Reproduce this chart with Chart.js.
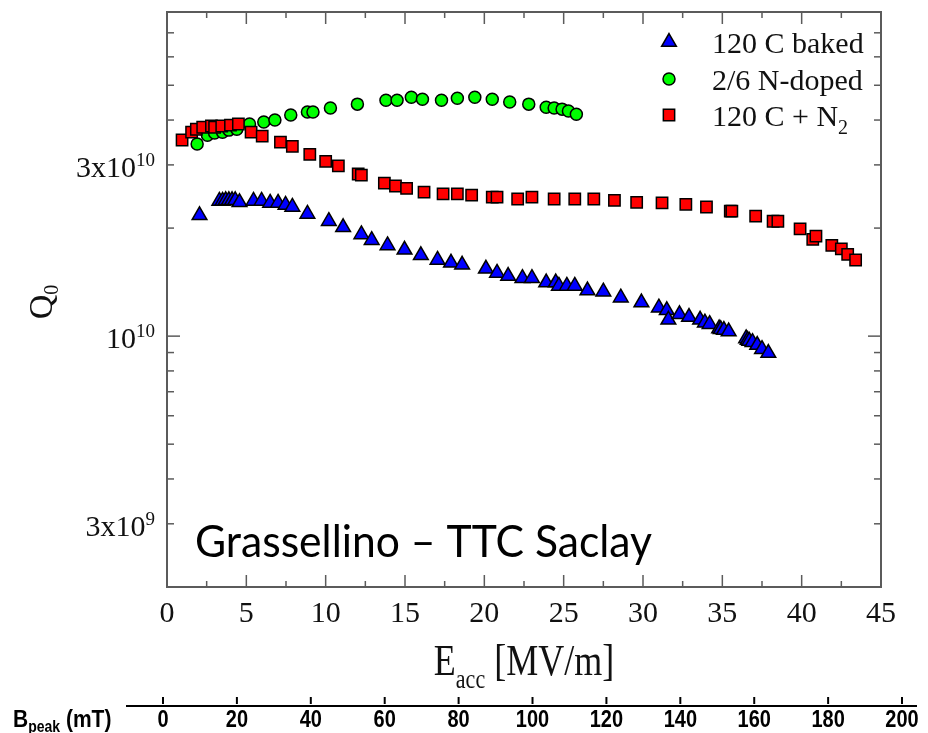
<!DOCTYPE html>
<html><head><meta charset="utf-8">
<script src="https://cdn.jsdelivr.net/npm/chart.js@4.4.1/dist/chart.umd.min.js"></script>
<style>html,body{margin:0;padding:0;background:#fff;}canvas{display:block;}</style>
</head><body>
<canvas id="c" width="928" height="733"></canvas>
<script>
// ---------------- data ----------------
const seriesNames = ['120 C baked', '2/6 N-doped', '120 C + N_2'];

const bakedE = [2.05, 3.3, 3.5, 3.7, 3.9, 4.1, 4.3, 4.57, 5.45, 5.96, 6.5, 7.0, 7.47, 7.9, 8.85, 10.2, 11.1, 12.25, 12.9, 13.9, 14.97, 16.0, 17.05, 17.9, 18.6, 20.1, 20.8, 21.5, 22.4, 23.0, 23.9, 24.5, 24.7, 25.2, 25.7, 26.5, 27.5, 28.6, 29.9, 31.0, 31.5, 31.6, 32.3, 32.9, 33.6, 33.9, 34.2, 34.8, 34.9, 35.1, 35.4, 36.5, 36.6, 36.7, 36.9, 37.2, 37.5, 37.9];
const bakedQ = [2.17e10, 2.38e10, 2.38e10, 2.39e10, 2.39e10, 2.39e10, 2.39e10, 2.36e10, 2.38e10, 2.38e10, 2.35e10, 2.35e10, 2.32e10, 2.29e10, 2.19e10, 2.09e10, 2.01e10, 1.92e10, 1.85e10, 1.79e10, 1.74e10, 1.68e10, 1.63e10, 1.60e10, 1.58e10, 1.54e10, 1.50e10, 1.47e10, 1.45e10, 1.45e10, 1.41e10, 1.41e10, 1.38e10, 1.38e10, 1.38e10, 1.34e10, 1.33e10, 1.28e10, 1.24e10, 1.20e10, 1.18e10, 1.11e10, 1.15e10, 1.13e10, 1.11e10, 1.09e10, 1.08e10, 1.05e10, 1.045e10, 1.04e10, 1.03e10, 0.985e10, 0.975e10, 0.97e10, 0.962e10, 0.944e10, 0.92e10, 0.897e10];

const dopedE = [1.9, 2.55, 3.0, 3.5, 3.9, 4.4, 5.2, 6.1, 6.8, 7.8, 8.85, 9.2, 10.3, 12.0, 13.8, 14.5, 15.4, 16.1, 17.3, 18.3, 19.4, 20.5, 21.6, 22.8, 23.9, 24.4, 24.9, 25.3, 25.8];
const dopedQ = [3.43e10, 3.63e10, 3.68e10, 3.70e10, 3.75e10, 3.77e10, 3.90e10, 3.95e10, 4.00e10, 4.13e10, 4.21e10, 4.21e10, 4.32e10, 4.43e10, 4.54e10, 4.54e10, 4.63e10, 4.57e10, 4.54e10, 4.60e10, 4.63e10, 4.57e10, 4.49e10, 4.43e10, 4.34e10, 4.32e10, 4.29e10, 4.24e10, 4.15e10];

const n2E = [0.95, 1.55, 1.85, 2.25, 2.8, 3.0, 3.45, 4.0, 4.5, 5.3, 6.0, 7.15, 7.9, 9.0, 10.0, 10.8, 12.05, 12.25, 13.7, 14.4, 15.1, 16.2, 17.4, 18.3, 19.2, 20.5, 20.8, 22.1, 23.0, 24.4, 25.7, 26.9, 28.2, 29.6, 31.2, 32.7, 34.0, 35.5, 35.6, 37.1, 38.2, 38.5, 39.9, 40.7, 40.9, 41.9, 42.5, 42.9, 43.4];
const n2Q = [3.52e10, 3.70e10, 3.77e10, 3.82e10, 3.85e10, 3.82e10, 3.85e10, 3.87e10, 3.90e10, 3.70e10, 3.61e10, 3.47e10, 3.38e10, 3.21e10, 3.07e10, 2.98e10, 2.83e10, 2.81e10, 2.67e10, 2.62e10, 2.58e10, 2.52e10, 2.49e10, 2.49e10, 2.47e10, 2.44e10, 2.44e10, 2.41e10, 2.44e10, 2.41e10, 2.41e10, 2.41e10, 2.39e10, 2.36e10, 2.35e10, 2.33e10, 2.29e10, 2.23e10, 2.23e10, 2.16e10, 2.09e10, 2.09e10, 1.99e10, 1.86e10, 1.90e10, 1.79e10, 1.75e10, 1.69e10, 1.63e10];

const xMajorTicks = [0, 5, 10, 15, 20, 25, 30, 35, 40, 45];
const xMinorTicks = [2.5, 7.5, 12.5, 17.5, 22.5, 27.5, 32.5, 37.5, 42.5];
const yTicks = [2e9, 3e9, 4e9, 5e9, 6e9, 7e9, 8e9, 9e9, 1e10, 2e10, 3e10, 4e10, 5e10, 6e10, 7e10, 8e10];
const yLabelValues = [3e9, 1e10, 3e10];
const yLabelTexts = ['3x10^9', '10^10', '3x10^10'];
const bTicks = [0, 20, 40, 60, 80, 100, 120, 140, 160, 180, 200];

const xTitle = ['E', 'acc', ' [MV/m]'];
const yTitle = ['Q', '0'];
const bTitle = ['B', 'peak', ' (mT)'];
const noteText = 'Grassellino \u2013 TTC Saclay';

// ---------------- drawing ----------------
const SERIF = '"Liberation Serif", "Times New Roman", serif';
const SANS = '"Liberation Sans", Arial, sans-serif';
const AXC = '#5b5b5b';

const pts = (xs, ys) => xs.map((x, i) => ({x, y: ys[i]}));

function marker(ctx, style, x, y, r, fill) {
  ctx.beginPath();
  if (style === 'triangle') {
    ctx.moveTo(x, y - r);
    ctx.lineTo(x + Math.sin(2*Math.PI/3) * r, y - Math.cos(2*Math.PI/3) * r);
    ctx.lineTo(x + Math.sin(4*Math.PI/3) * r, y - Math.cos(4*Math.PI/3) * r);
    ctx.closePath();
  } else if (style === 'circle') {
    ctx.arc(x, y, r, 0, Math.PI * 2);
  } else {
    const s = Math.SQRT1_2 * r;
    ctx.rect(x - s, y - s, 2 * s, 2 * s);
  }
  ctx.fillStyle = fill; ctx.fill();
  ctx.lineWidth = 1.5; ctx.strokeStyle = '#000'; ctx.stroke();
}

function line(ctx, x1, y1, x2, y2) { ctx.beginPath(); ctx.moveTo(x1, y1); ctx.lineTo(x2, y2); ctx.stroke(); }

const decor = {
  id: 'decor',
  afterDraw(chart) {
    const ctx = chart.ctx, a = chart.chartArea;
    const xs = chart.scales.x, ys = chart.scales.y, bs = chart.scales.b;
    ctx.save();
    // frame
    ctx.strokeStyle = AXC; ctx.lineWidth = 2;
    ctx.strokeRect(a.left, a.top, a.right - a.left, a.bottom - a.top);
    // x ticks (bottom & top, inward)
    ctx.lineWidth = 1.5;
    xMajorTicks.forEach(v => { const p = xs.getPixelForValue(v); line(ctx, p, a.bottom, p, a.bottom - 12); line(ctx, p, a.top, p, a.top + 12); });
    xMinorTicks.forEach(v => { const p = xs.getPixelForValue(v); line(ctx, p, a.bottom, p, a.bottom - 6); line(ctx, p, a.top, p, a.top + 6); });
    yTicks.forEach(v => { const p = ys.getPixelForValue(v); const L = (v === 1e10) ? 13 : 7; line(ctx, a.left, p, a.left + L, p); line(ctx, a.right, p, a.right - L, p); });

    // x tick labels
    ctx.fillStyle = '#111';
    ctx.font = '30px ' + SERIF; ctx.textAlign = 'center'; ctx.textBaseline = 'alphabetic';
    xMajorTicks.forEach(v => ctx.fillText(String(v), xs.getPixelForValue(v), a.bottom + 35));

    // y tick labels with superscripts
    yLabelValues.forEach((v, i) => {
      const [base, sup] = yLabelTexts[i].split('^');
      const py = ys.getPixelForValue(v) + 12;
      ctx.textAlign = 'left';
      ctx.font = '30px ' + SERIF; const wb = ctx.measureText(base).width;
      ctx.font = '19px ' + SERIF; const ws = ctx.measureText(sup).width;
      const x0 = a.left - 12 - wb - ws;
      ctx.font = '30px ' + SERIF; ctx.fillText(base, x0, py);
      ctx.font = '19px ' + SERIF; ctx.fillText(sup, x0 + wb, py - 11);
    });

    // x title (slightly tall, as in the reference)
    ctx.save();
    ctx.translate(0, 675); ctx.scale(1, 1.25);
    ctx.font = '36px ' + SERIF; const wE = ctx.measureText(xTitle[0]).width;
    ctx.font = '22px ' + SERIF; const wA = ctx.measureText(xTitle[1]).width;
    ctx.font = '36px ' + SERIF; const wR = ctx.measureText(xTitle[2]).width;
    let tx = (a.left + a.right) / 2 - (wE + wA + wR) / 2;
    ctx.textAlign = 'left';
    ctx.fillText(xTitle[0], tx, 0);
    ctx.font = '22px ' + SERIF; ctx.fillText(xTitle[1], tx + wE, 10);
    ctx.font = '36px ' + SERIF; ctx.fillText(xTitle[2], tx + wE + wA, 0);
    ctx.restore();

    // y title, rotated
    ctx.save();
    ctx.translate(52, 303); ctx.rotate(-Math.PI / 2);
    ctx.textAlign = 'left';
    ctx.font = '34px ' + SERIF; const wQ = ctx.measureText(yTitle[0]).width;
    ctx.fillText(yTitle[0], -wQ / 2 - 4, 0);
    ctx.font = '20px ' + SERIF; ctx.fillText(yTitle[1], wQ / 2 - 4, 6);
    ctx.restore();

    // legend
    const ds = chart.data.datasets;
    const legY = [42, 79, 115];
    ds.forEach((d, i) => {
      marker(ctx, d.pointStyle, 669, legY[i], d.pointRadius, d.backgroundColor);
      ctx.fillStyle = '#111'; ctx.textAlign = 'left';
      const name = seriesNames[i];
      ctx.font = '30px ' + SERIF;
      if (name.includes('_')) {
        const [b, s] = name.split('_');
        ctx.fillText(b, 712, legY[i] + 11);
        const w = ctx.measureText(b).width;
        ctx.font = '20px ' + SERIF; ctx.fillText(s, 712 + w, legY[i] + 19);
      } else {
        ctx.fillText(name, 712, legY[i] + 11);
      }
    });

    // annotation text
    ctx.save();
    ctx.fillStyle = '#000';
    ctx.font = '44px Lato, "Open Sans", sans-serif';
    const wn = ctx.measureText(noteText).width;
    ctx.translate(195, 557); ctx.scale(457 / wn, 1);
    ctx.textAlign = 'left'; ctx.fillText(noteText, 0, 0);
    ctx.restore();

    // secondary B_peak axis
    ctx.strokeStyle = '#000'; ctx.lineWidth = 2;
    line(ctx, 126, 706, 917, 706);
    bTicks.forEach(v => { const p = bs.getPixelForValue(v); line(ctx, p, 697, p, 704); });
    ctx.fillStyle = '#000';
    ctx.save();
    ctx.translate(0, 727); ctx.scale(1, 1.15);
    ctx.font = 'bold 20px ' + SANS; ctx.textAlign = 'center';
    bTicks.forEach(v => ctx.fillText(String(v), bs.getPixelForValue(v), 0));
    ctx.textAlign = 'left';
    ctx.font = 'bold 21px ' + SANS; ctx.fillText(bTitle[0], 13, 0);
    const wB = ctx.measureText(bTitle[0]).width;
    ctx.font = 'bold 14px ' + SANS; ctx.fillText(bTitle[1], 13 + wB, 4);
    const wP = ctx.measureText(bTitle[1]).width;
    ctx.font = 'bold 21px ' + SANS; ctx.fillText(bTitle[2], 13 + wB + wP, 0);
    ctx.restore();
    ctx.restore();
  }
};

new Chart(document.getElementById('c'), {
  type: 'scatter',
  data: {
    datasets: [
      { label: seriesNames[0], data: pts(bakedE, bakedQ), pointStyle: 'triangle', pointRadius: 8.5, backgroundColor: '#0000ff', borderColor: '#000', borderWidth: 1.5, order: 2 },
      { label: seriesNames[1], data: pts(dopedE, dopedQ), pointStyle: 'circle', pointRadius: 6, backgroundColor: '#00ff00', borderColor: '#000', borderWidth: 1.5, order: 1 },
      { label: seriesNames[2], data: pts(n2E, n2Q), pointStyle: 'rect', pointRadius: 8, backgroundColor: '#ff0000', borderColor: '#000', borderWidth: 1.5, order: 0 }
    ]
  },
  options: {
    responsive: false, animation: false, events: [],
    layout: { padding: { left: 167, right: 47, top: 12, bottom: 146 } },
    plugins: { legend: { display: false }, tooltip: { enabled: false }, title: { display: false } },
    scales: {
      x: { type: 'linear', min: 0, max: 45, display: false },
      y: { type: 'logarithmic', min: 2e9, max: 8e10, display: false },
      b: { type: 'linear', axis: 'x', position: 'bottom', min: 1.083, max: 194.31, display: false }
    }
  },
  plugins: [decor]
});
</script>
</body></html>
